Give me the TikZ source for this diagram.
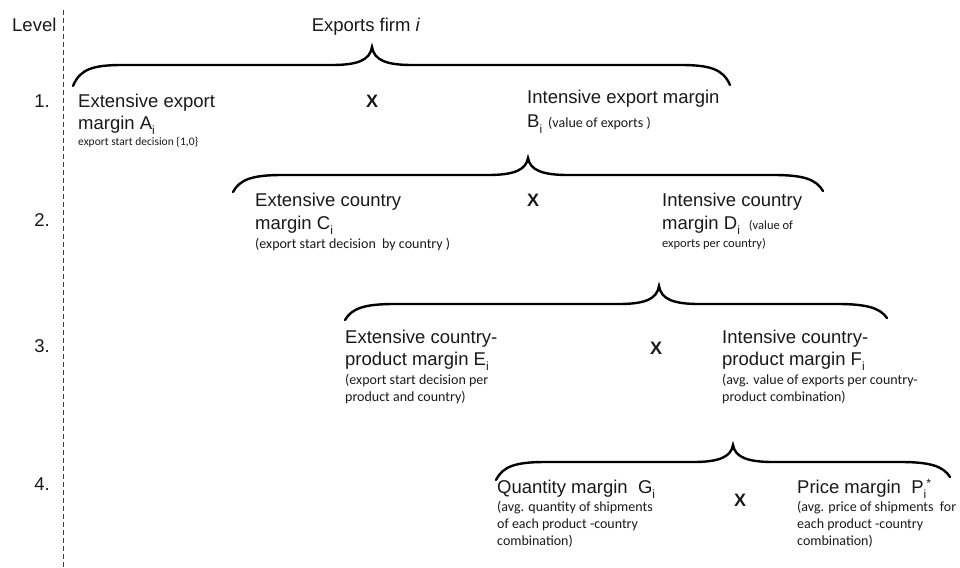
\documentclass[tikz,border=0pt]{standalone}
\usepackage{fontspec}
\setmainfont{Liberation Sans}
\newfontfamily\notefont{Carlito}
\newcommand\mysub[1]{\raisebox{-0.28em}{\fontsize{12}{12}\selectfont #1}}
\newcommand\mysup[1]{\raisebox{0.32em}{\fontsize{12}{12}\selectfont #1}}
\newcommand\mybrace[7]{%
  \draw[bracestyle] (#1,#2) .. controls ({#1+7},{#7+4}) and ({#1+20},{#7}) .. ({#1+50},{#7})
    -- ({#3-40},{#7}) .. controls ({#3-14},{#7}) and ({#3-2},{#7-5}) .. (#3,#4)
    .. controls ({#3+2},{#7-5}) and ({#3+14},{#7}) .. ({#3+40},{#7})
    -- ({#5-50},{#7}) .. controls ({#5-20},{#7}) and ({#5-7},{#7+4}) .. (#5,#6);}
\tikzset{
  mainlbl/.style={font=\fontsize{18.5}{22}\selectfont, anchor=base west, inner sep=0pt, text=black!90},
  notelbl/.style={font=\notefont\fontsize{14}{17}\selectfont, anchor=base west, inner sep=0pt, text=black!90},
  smallnote/.style={notelbl, font=\notefont\fontsize{12.5}{15}\selectfont},
  timeslbl/.style={font=\bfseries\fontsize{18}{22}\selectfont, anchor=base, inner sep=0pt, text=black!90},
  bracestyle/.style={line width=2.4pt, line cap=round, black},
  levelline/.style={line width=0.9pt, black!75, dash pattern=on 5pt off 3pt}
}
\begin{document}
\begin{tikzpicture}[x=1pt,y=-1pt]
\useasboundingbox (0,0) rectangle (960,567);
% level column
\coordinate (dtop) at (63,10);
\coordinate (dbot) at (63,567);
\draw[levelline] (dtop) -- (dbot);
\node[mainlbl] (lvl) at (12,32) {Level};
\node[mainlbl, anchor=base east] (n1) at (50,107) {1.};
\node[mainlbl, anchor=base east] (n2) at (50,226) {2.};
\node[mainlbl, anchor=base east] (n3) at (50,352) {3.};
\node[mainlbl, anchor=base east] (n4) at (50,490) {4.};
% title
\node[mainlbl, anchor=base] (title) at (366,32) {Exports firm \textit{i}};
% braces
\mybrace{73}{86}{372}{47}{730}{85}{65}
\mybrace{233}{192}{528}{158}{823}{191}{175}
\mybrace{345}{320}{659}{286}{887}{318}{304}
\mybrace{496}{480}{733}{445}{950}{477}{462}
% level 1
\node[mainlbl] (a1) at (78,107) {Extensive export};
\node[mainlbl] (a2) at (78,129) {margin A\mysub{i}};
\node[notelbl, font=\notefont\fontsize{11.5}{14}\selectfont] (a3) at (78,145) {export start decision \{1,0\}};
\node[timeslbl] (x1) at (372,107) {X};
\node[mainlbl] (b1) at (527,104) {Intensive export margin};
\node[mainlbl] (b2) at (527,128) {B\mysub{i}\hspace{6pt}{\notefont\fontsize{14}{17}\selectfont(value of exports )}};
% level 2
\node[mainlbl] (c1) at (255,206) {Extensive country};
\node[mainlbl] (c2) at (255,229) {margin C\mysub{i}};
\node[notelbl] (c3) at (255,248) {(export start decision\ \ by country )};
\node[timeslbl] (x2) at (533,206) {X};
\node[mainlbl] (d1) at (662,206) {Intensive country};
\node[mainlbl] (d2) at (662,229) {margin D\mysub{i}\hspace{9pt}{\notefont\fontsize{12.5}{15}\selectfont(value of}};
\node[smallnote] (d3) at (662,247) {exports per country)};
% level 3
\node[mainlbl] (e1) at (345,343) {Extensive country-};
\node[mainlbl] (e2) at (345,365) {product margin E\mysub{i}};
\node[notelbl] (e3) at (345,384) {(export start decision per};
\node[notelbl] (e4) at (345,401) {product and country)};
\node[timeslbl] (x3) at (656,354) {X};
\node[mainlbl] (f1) at (722,343) {Intensive country-};
\node[mainlbl] (f2) at (722,365) {product margin F\mysub{i}};
\node[notelbl] (f3) at (722,384) {(avg. value of exports per country-};
\node[notelbl] (f4) at (722,401) {product combination)};
% level 4
\node[mainlbl] (g1) at (497,493) {Quantity margin\ \ G\mysub{i}};
\node[notelbl] (g2) at (497,511) {(avg. quantity of shipments};
\node[notelbl] (g3) at (497,528) {of each product\ -country};
\node[notelbl] (g4) at (497,545) {combination)};
\node[timeslbl] (x4) at (740,506) {X};
\node[mainlbl] (p1) at (797,493) {Price margin\ \ P\mysub{i}\mysup{*}};
\node[notelbl] (p2) at (797,511) {(avg. price of shipments\ \ for};
\node[notelbl] (p3) at (797,528) {each product\ -country};
\node[notelbl] (p4) at (797,545) {combination)};
\end{tikzpicture}
\end{document}
